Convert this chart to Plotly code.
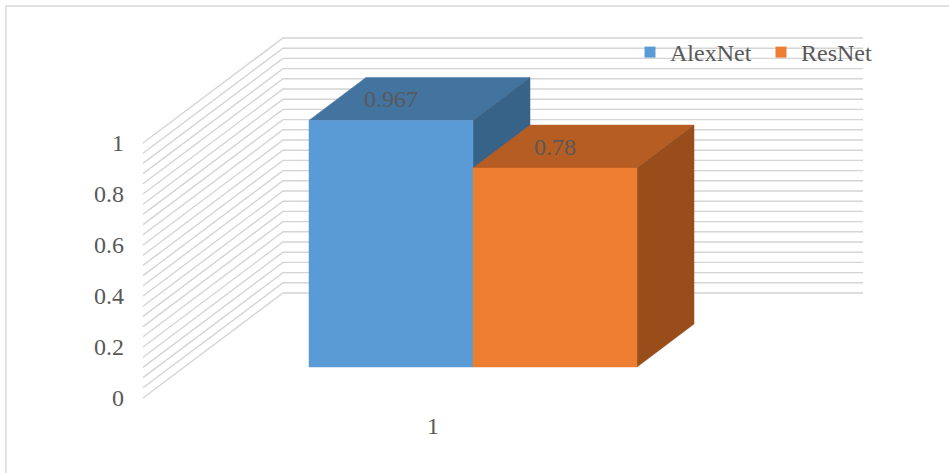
import plotly.graph_objects as go

# ---- data ----
categories = ["1"]
series_names = ["AlexNet", "ResNet"]
series_values = [0.967, 0.78]
y_tick_vals = [0, 0.2, 0.4, 0.6, 0.8, 1]
y_tick_text = ["0", "0.2", "0.4", "0.6", "0.8", "1"]

# ---- styles / geometry (layout constants) ----
front_colors = ["#5B9BD5", "#ED7D31"]
top_colors = ["#43739F", "#B55D22"]
side_colors = ["#386388", "#984D1B"]
grid_color = "#D4D4D4"
text_color = "#595959"
FONT = "Liberation Serif, Times New Roman, serif"
FS = 24

PX = 255.0                 # pixels per 1.0 value unit
W, H = 949, 473
ZERO_PX = 398              # pixel row of value 0 at front-left edge
WALL_X0 = 143              # x of front edge of side wall
WALL_DX = 140              # depth of wall (x)
WALL_DY = 105 / PX         # depth of wall (value units)
BACK_X1 = 863              # right end of back wall
BAR_W = 164
BAR_X0 = 309
BAR_BASE = 31 / PX
BAR_DX = 57
BAR_DY = 43 / PX
GRID_STEP = 0.04

yr = [-(H - ZERO_PX) / PX, ZERO_PX / PX]
x_left = 135

fig = go.Figure()

# gridlines on side wall and back wall
gx, gy = [], []
vmax = max(y_tick_vals)
n_grid = int(round(vmax / GRID_STEP))
for i in range(n_grid + 1):
    v = i * GRID_STEP
    gx += [WALL_X0, WALL_X0 + WALL_DX, BACK_X1, None]
    gy += [v, v + WALL_DY, v + WALL_DY, None]
fig.add_trace(go.Scatter(x=gx, y=gy, mode="lines",
                         line=dict(color=grid_color, width=1.4),
                         hoverinfo="skip", showlegend=False))


def poly(xs, ys, color, name=None):
    return go.Scatter(x=xs + [xs[0]], y=ys + [ys[0]], fill="toself", fillcolor=color,
                      mode="lines", line=dict(width=0.5, color=color),
                      hoverinfo="skip", showlegend=False, name=name)


# bars (3-D boxes: front, top, side faces)
for i, (name, v) in enumerate(zip(series_names, series_values)):
    x0 = BAR_X0 + i * BAR_W
    x1 = x0 + BAR_W
    top = BAR_BASE + v
    fig.add_trace(poly([x0, x1, x1 + BAR_DX, x0 + BAR_DX],
                       [top, top, top + BAR_DY, top + BAR_DY], top_colors[i]))
    fig.add_trace(poly([x1, x1, x1 + BAR_DX, x1 + BAR_DX],
                       [BAR_BASE, top, top + BAR_DY, BAR_BASE + BAR_DY], side_colors[i]))
    fig.add_trace(poly([x0, x1, x1, x0],
                       [BAR_BASE, BAR_BASE, top, top], front_colors[i], name))
    fig.add_annotation(x=(x0 + x1) / 2, y=top + BAR_DY / 2, text=f"{v:g}",
                       showarrow=False, font=dict(family=FONT, size=FS, color=text_color),
                       xanchor="center", yanchor="middle")

# legend entries
for i, name in enumerate(series_names):
    fig.add_trace(go.Scatter(x=[None], y=[None], mode="markers", name=name,
                             marker=dict(symbol="square", size=11, color=front_colors[i]),
                             showlegend=True))

# category label
fig.add_annotation(x=(WALL_X0 + BACK_X1 - WALL_DX) / 2, y=-28 / PX, text=categories[0],
                   showarrow=False, font=dict(family=FONT, size=FS, color=text_color),
                   xanchor="center", yanchor="middle")

# chart-area border
fig.add_shape(type="rect", xref="paper", yref="paper", x0=6 / W, x1=1.02,
              y0=-0.02, y1=1 - 6 / H, line=dict(color="#D9D9D9", width=1.5),
              fillcolor="rgba(0,0,0,0)", layer="below")

fig.update_layout(
    width=W, height=H,
    margin=dict(l=0, r=0, t=0, b=0),
    paper_bgcolor="white", plot_bgcolor="white",
    font=dict(family=FONT, size=FS, color=text_color),
    xaxis=dict(domain=[x_left / W, 1], range=[x_left, W], showgrid=False,
               zeroline=False, showline=False, showticklabels=False, fixedrange=True),
    yaxis=dict(range=yr, showgrid=False, zeroline=False, showline=False,
               tickvals=y_tick_vals, ticktext=y_tick_text, ticks="",
               ticklabelstandoff=10, tickfont=dict(family=FONT, size=FS, color=text_color)),
    legend=dict(orientation="h", x=630 / W, y=1 - 30 / H, xanchor="left", yanchor="top",
                font=dict(family=FONT, size=FS, color=text_color),
                bgcolor="rgba(0,0,0,0)", itemwidth=30, entrywidth=86),
    showlegend=True,
)

fig.write_html("out.html")
